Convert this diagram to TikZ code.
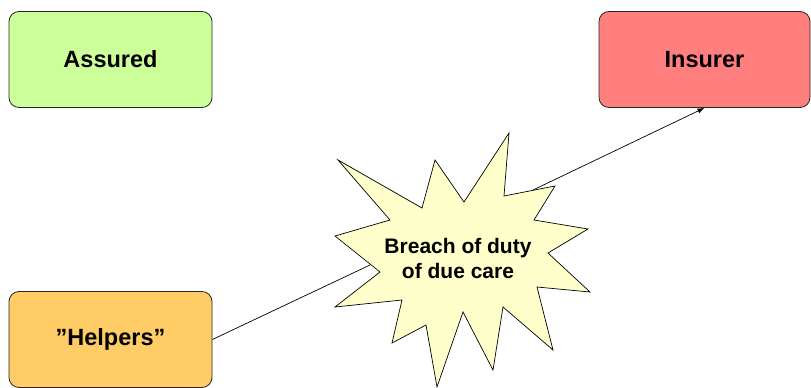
\documentclass[tikz,border=0pt]{standalone}
\usepackage{fontspec}
\setmainfont{Liberation Sans}
\usepackage{tikz}
\usetikzlibrary{arrows.meta,positioning}

\definecolor{assuredgreen}{HTML}{CCFF99}
\definecolor{insurerred}{HTML}{FF7F7F}
\definecolor{helperorange}{HTML}{FFCC66}
\definecolor{burstyellow}{HTML}{FFFFCC}

\begin{document}
\begin{tikzpicture}[x=1pt, y=-1pt,
    party/.style={draw=black!85, line width=0.8pt, rounded corners=10pt,
        minimum width=203pt, minimum height=96pt,
        font=\fontsize{23.5}{28}\selectfont\bfseries},
    link/.style={line width=0.7pt}]
\useasboundingbox (0,0) rectangle (811,388);

% Parties
\node[party, fill=assuredgreen] (assured) at (110.5,59.5) {Assured};
\node[party, fill=insurerred, minimum width=211pt] (insurer) at (704.5,59.5) {Insurer};
\node[party, fill=helperorange] (helpers) at (110.5,339.5) {”Helpers”};

% Explosion
\draw[fill=burstyellow, line width=0.7pt] (338,160) -- (422,208) -- (435,160) -- (464,202)
    -- (509,133) -- (504,196) -- (555,186) -- (534,220) -- (588,229) -- (548,253)
    -- (590,292) -- (537,287) -- (553,350) -- (503,307) -- (493,370) -- (463,312)
    -- (437,387) -- (426,325) -- (392,343) -- (402,300) -- (335,307) -- (380,272)
    -- (335,236) -- (390,220) -- cycle;
\node[align=center, font=\fontsize{21}{25}\selectfont\bfseries] (breach) at (458,258)
    {Breach of duty\\of due care};
\coordinate (burstin) at (370,265);
\coordinate (burstout) at (533,190);

% Connectors
\draw[link] (helpers.east) -- (burstin);
\draw[link, -{Latex[length=7pt, width=5pt]}] (burstout) -- (insurer.south);
\end{tikzpicture}
\end{document}
